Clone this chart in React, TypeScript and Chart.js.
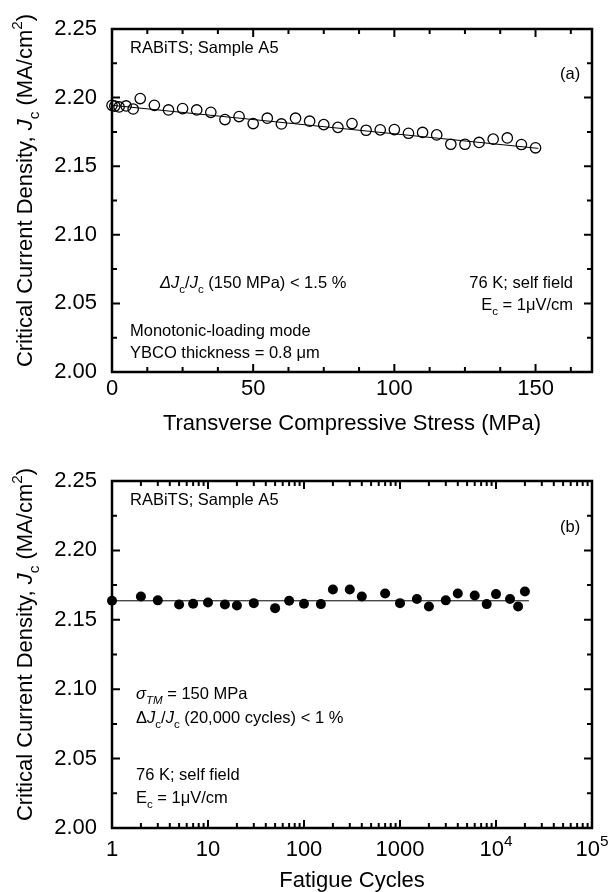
import React, { useEffect, useRef } from 'react';
import { Chart, registerables } from 'chart.js';

Chart.register(...registerables);

// ---------- data ----------
const stressMPa = [0, 1, 2.5, 5, 7.5, 10, 15, 20, 25, 30, 35, 40, 45, 50, 55, 60, 65, 70, 75, 80, 85, 90, 95, 100, 105, 110, 115, 120, 125, 130, 135, 140, 145, 150];
const jcStress = [2.1944, 2.1938, 2.1932, 2.1939, 2.1917, 2.1993, 2.1944, 2.191, 2.192, 2.191, 2.1893, 2.184, 2.1862, 2.1811, 2.185, 2.1808, 2.185, 2.1828, 2.1803, 2.1783, 2.1811, 2.1762, 2.1765, 2.1767, 2.174, 2.1746, 2.1728, 2.166, 2.166, 2.1673, 2.1697, 2.1706, 2.1658, 2.1634];
const fitStressX = [0, 151];
const fitStressY = [2.1944, 2.163];

const cycles = [1, 2, 3, 5, 7, 10, 15, 20, 30, 50, 70, 100, 150, 200, 300, 400, 700, 1000, 1500, 2000, 3000, 4000, 6000, 8000, 10000, 14000, 17000, 20000];
const jcCycles = [2.1637, 2.1668, 2.164, 2.161, 2.1615, 2.1625, 2.161, 2.1603, 2.162, 2.1584, 2.1637, 2.1615, 2.1613, 2.1718, 2.1718, 2.1668, 2.169, 2.162, 2.165, 2.1596, 2.164, 2.169, 2.1675, 2.1613, 2.1685, 2.165, 2.1596, 2.1704];
const fitCyclesX = [1, 22000];
const fitCyclesY = [2.1637, 2.1637];

const yTicks = [2.0, 2.05, 2.1, 2.15, 2.2, 2.25];
const yMinorTicks = [2.025, 2.075, 2.125, 2.175, 2.225];
const stressTicks = [0, 50, 100, 150];
const stressMinorTicks = [12.5, 25, 37.5, 62.5, 75, 87.5, 112.5, 125, 137.5, 162.5];
const cycleTicks = [1, 10, 100, 1000, 10000, 100000];
const cycleMinorTicks = [2, 3, 4, 5, 6, 7, 8, 9, 20, 30, 40, 50, 60, 70, 80, 90, 200, 300, 400, 500, 600, 700, 800, 900, 2000, 3000, 4000, 5000, 6000, 7000, 8000, 9000, 20000, 30000, 40000, 50000, 60000, 70000, 80000, 90000];

const FONT = '"Liberation Sans", Arial, sans-serif';
const NOTE = 16.5;

type Seg = { t: string; it?: boolean; sub?: boolean; sup?: boolean };

function richWidth(ctx: CanvasRenderingContext2D, segs: Seg[], size: number) {
  let w = 0;
  for (const s of segs) {
    const sz = s.sub || s.sup ? size * 0.7 : size;
    ctx.font = `${s.it ? 'italic ' : ''}${sz}px ${FONT}`;
    w += ctx.measureText(s.t).width;
  }
  return w;
}

function drawRich(ctx: CanvasRenderingContext2D, segs: Seg[], x: number, y: number, size: number, align: 'left' | 'right' | 'center' = 'left') {
  const w = richWidth(ctx, segs, size);
  let cx = align === 'left' ? x : align === 'right' ? x - w : x - w / 2;
  ctx.textBaseline = 'alphabetic';
  ctx.textAlign = 'left';
  ctx.fillStyle = '#000';
  for (const s of segs) {
    const sz = s.sub || s.sup ? size * 0.7 : size;
    ctx.font = `${s.it ? 'italic ' : ''}${sz}px ${FONT}`;
    const dy = s.sub ? size * 0.3 : s.sup ? -size * 0.45 : 0;
    ctx.fillText(s.t, cx, y + dy);
    cx += ctx.measureText(s.t).width;
  }
}

type Note = { segs: Seg[]; x: number; y: number; size: number; align?: 'left' | 'right' | 'center' };

function makeFramePlugin(opts: {
  xMajor: number[];
  xMinor: number[];
  xLabel: (v: number) => Seg[];
  xTitle: string;
  xTitleY: number;
  xLabelY: number;
  notes: Note[];
}) {
  return {
    id: 'frame',
    afterDraw(chart: any) {
      const ctx: CanvasRenderingContext2D = chart.ctx;
      const { left, right, top, bottom } = chart.chartArea;
      const xs = chart.scales.x;
      const ys = chart.scales.y;
      ctx.save();
      ctx.strokeStyle = '#000';
      const major = 8;
      const minor = 5;
      ctx.lineWidth = 2;
      ctx.beginPath();
      for (const v of yTicks) {
        const p = ys.getPixelForValue(v);
        ctx.moveTo(left, p); ctx.lineTo(left + major, p);
        ctx.moveTo(right, p); ctx.lineTo(right - major, p);
      }
      for (const v of yMinorTicks) {
        const p = ys.getPixelForValue(v);
        ctx.moveTo(left, p); ctx.lineTo(left + minor, p);
        ctx.moveTo(right, p); ctx.lineTo(right - minor, p);
      }
      for (const v of opts.xMajor) {
        const p = xs.getPixelForValue(v);
        ctx.moveTo(p, bottom); ctx.lineTo(p, bottom - major);
        ctx.moveTo(p, top); ctx.lineTo(p, top + major);
      }
      for (const v of opts.xMinor) {
        const p = xs.getPixelForValue(v);
        ctx.moveTo(p, bottom); ctx.lineTo(p, bottom - minor);
        ctx.moveTo(p, top); ctx.lineTo(p, top + minor);
      }
      ctx.stroke();
      ctx.lineWidth = 2.5;
      ctx.strokeRect(left, top, right - left, bottom - top);

      ctx.fillStyle = '#000';
      ctx.font = `22px ${FONT}`;
      ctx.textAlign = 'right';
      ctx.textBaseline = 'middle';
      for (const v of yTicks) {
        ctx.fillText(v.toFixed(2), left - 15, ys.getPixelForValue(v));
      }
      for (const v of opts.xMajor) {
        drawRich(ctx, opts.xLabel(v), xs.getPixelForValue(v), opts.xLabelY, 22, 'center');
      }
      ctx.font = `22px ${FONT}`;
      ctx.textAlign = 'center';
      ctx.textBaseline = 'alphabetic';
      ctx.fillText(opts.xTitle, (left + right) / 2, opts.xTitleY);

      ctx.save();
      ctx.translate(32, (top + bottom) / 2 - 10);
      ctx.rotate(-Math.PI / 2);
      drawRich(ctx, [
        { t: 'Critical Current Density, ' },
        { t: 'J', it: true },
        { t: 'c', sub: true },
        { t: ' (MA/cm' },
        { t: '2', sup: true },
        { t: ')' },
      ], 0, 0, 22, 'center');
      ctx.restore();

      for (const n of opts.notes) {
        drawRich(ctx, n.segs, n.x, n.y, n.size, n.align || 'left');
      }
      ctx.restore();
    },
  };
}

function yScale(width: number) {
  return {
    type: 'linear' as const,
    min: 2.0,
    max: 2.25,
    afterBuildTicks: (s: any) => { s.ticks = yTicks.map((v) => ({ value: v })); },
    afterFit: (s: any) => { s.width = width; },
    grid: { display: false, drawTicks: false },
    border: { display: false },
    ticks: { display: false },
  };
}

function TopChart() {
  const ref = useRef<HTMLCanvasElement>(null);
  useEffect(() => {
    const canvas = ref.current!;
    const chart = new Chart(canvas, {
      type: 'scatter',
      data: {
        datasets: [
          {
            data: stressMPa.map((x, i) => ({ x, y: jcStress[i] })),
            pointStyle: 'circle',
            pointRadius: 5.2,
            pointBorderWidth: 1.3,
            pointBorderColor: '#000',
            pointBackgroundColor: 'rgba(255,255,255,0)',
            showLine: false,
            clip: false,
          },
          {
            data: fitStressX.map((x, i) => ({ x, y: fitStressY[i] })),
            showLine: true,
            borderColor: '#000',
            borderWidth: 1,
            pointRadius: 0,
          },
        ],
      },
      options: {
        responsive: false,
        animation: false,
        events: [],
        layout: { padding: { top: 29, right: 16, left: 0, bottom: 0 } },
        plugins: { legend: { display: false }, tooltip: { enabled: false } },
        scales: {
          x: {
            type: 'linear',
            min: 0,
            max: 170,
            afterFit: (s: any) => { s.height = 446 - 372; },
            grid: { display: false, drawTicks: false },
            border: { display: false },
            ticks: { display: false },
          },
          y: yScale(112),
        },
      },
      plugins: [
        makeFramePlugin({
          xMajor: stressTicks,
          xMinor: stressMinorTicks,
          xLabel: (v) => [{ t: String(v) }],
          xTitle: 'Transverse Compressive Stress (MPa)',
          xLabelY: 395,
          xTitleY: 430,
          notes: [
            { segs: [{ t: 'RABiTS; Sample A5' }], x: 130, y: 53, size: NOTE },
            { segs: [{ t: '(a)' }], x: 560, y: 79, size: NOTE },
            { segs: [{ t: 'Δ', it: true }, { t: 'J', it: true }, { t: 'c', sub: true }, { t: '/' }, { t: 'J', it: true }, { t: 'c', sub: true }, { t: ' (150 MPa) < 1.5 %' }], x: 160, y: 288, size: NOTE },
            { segs: [{ t: '76 K; self field' }], x: 573, y: 288, size: NOTE, align: 'right' },
            { segs: [{ t: 'E' }, { t: 'c', sub: true }, { t: ' = 1μV/cm' }], x: 573, y: 310, size: NOTE, align: 'right' },
            { segs: [{ t: 'Monotonic-loading mode' }], x: 130, y: 336, size: NOTE },
            { segs: [{ t: 'YBCO thickness = 0.8 μm' }], x: 130, y: 358, size: NOTE },
          ],
        }),
      ],
    } as any);
    return () => chart.destroy();
  }, []);
  return <canvas ref={ref} width={608} height={446} style={{ display: 'block' }} />;
}

function BottomChart() {
  const ref = useRef<HTMLCanvasElement>(null);
  useEffect(() => {
    const canvas = ref.current!;
    const chart = new Chart(canvas, {
      type: 'scatter',
      data: {
        datasets: [
          {
            data: cycles.map((x, i) => ({ x, y: jcCycles[i] })),
            pointStyle: 'circle',
            pointRadius: 5,
            pointBorderWidth: 0,
            pointBackgroundColor: '#000',
            showLine: false,
            clip: false,
          },
          {
            data: fitCyclesX.map((x, i) => ({ x, y: fitCyclesY[i] })),
            showLine: true,
            borderColor: '#000',
            borderWidth: 1,
            pointRadius: 0,
          },
        ],
      },
      options: {
        responsive: false,
        animation: false,
        events: [],
        layout: { padding: { top: 35, right: 16, left: 0, bottom: 0 } },
        plugins: { legend: { display: false }, tooltip: { enabled: false } },
        scales: {
          x: {
            type: 'logarithmic',
            min: 1,
            max: 100000,
            afterBuildTicks: (s: any) => { s.ticks = cycleTicks.map((v) => ({ value: v })); },
            afterFit: (s: any) => { s.height = 446 - 382; },
            grid: { display: false, drawTicks: false },
            border: { display: false },
            ticks: { display: false },
          },
          y: yScale(112),
        },
      },
      plugins: [
        makeFramePlugin({
          xMajor: cycleTicks,
          xMinor: cycleMinorTicks,
          xLabel: (v) => (v >= 10000 ? [{ t: '10' }, { t: String(Math.round(Math.log10(v))), sup: true }] : [{ t: String(v) }]),
          xTitle: 'Fatigue Cycles',
          xLabelY: 410,
          xTitleY: 441,
          notes: [
            { segs: [{ t: 'RABiTS; Sample A5' }], x: 130, y: 59, size: NOTE },
            { segs: [{ t: '(b)' }], x: 560, y: 86, size: NOTE },
            { segs: [{ t: 'σ', it: true }, { t: 'TM', it: true, sub: true }, { t: ' = 150 MPa' }], x: 136, y: 253, size: NOTE },
            { segs: [{ t: 'Δ' }, { t: 'J', it: true }, { t: 'c', sub: true }, { t: '/' }, { t: 'J', it: true }, { t: 'c', sub: true }, { t: ' (20,000 cycles) < 1 %' }], x: 136, y: 277, size: NOTE },
            { segs: [{ t: '76 K; self field' }], x: 136, y: 334, size: NOTE },
            { segs: [{ t: 'E' }, { t: 'c', sub: true }, { t: ' = 1μV/cm' }], x: 136, y: 357, size: NOTE },
          ],
        }),
      ],
    } as any);
    return () => chart.destroy();
  }, []);
  return <canvas ref={ref} width={608} height={446} style={{ display: 'block' }} />;
}

export default function App() {
  useEffect(() => {
    document.body.style.margin = '0';
    document.body.style.background = '#fff';
  }, []);
  return (
    <div style={{ width: 608, height: 892, background: '#fff' }}>
      <TopChart />
      <BottomChart />
    </div>
  );
}
